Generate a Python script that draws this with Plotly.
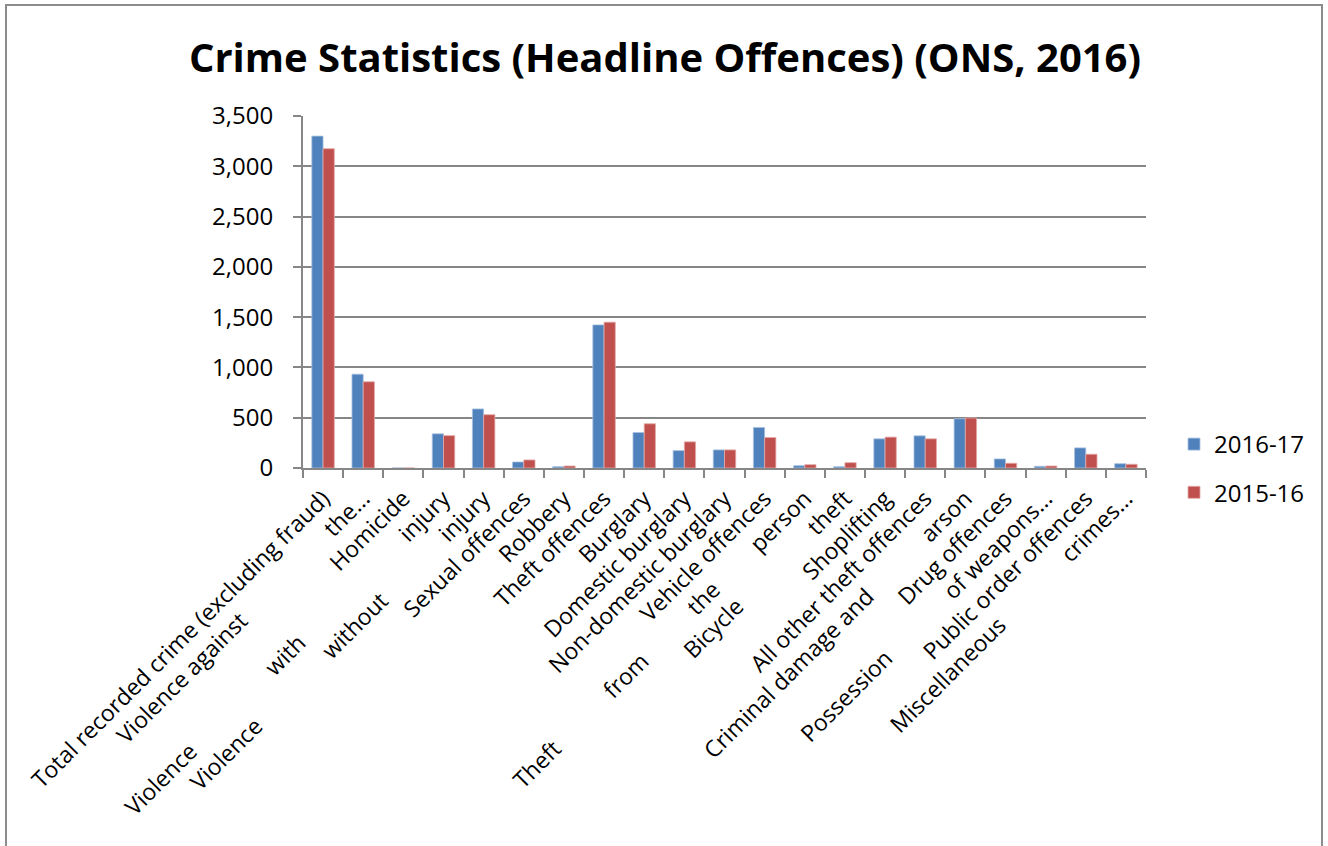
import plotly.graph_objects as go

NB = "\u00a0"

categories = [
    "Total recorded crime (excluding fraud)",
    "Violence against" + NB * 20 + "the...",
    "Homicide",
    "Violence" + NB * 18 + "with" + NB * 24 + "injury",
    "Violence" + NB * 16 + "without" + NB * 14 + "injury",
    "Sexual offences",
    "Robbery",
    "Theft offences",
    "Burglary",
    "Domestic burglary",
    "Non-domestic burglary",
    "Vehicle offences",
    "Theft" + NB * 12 + "from" + NB * 11 + "the" + NB * 9 + "person",
    "Bicycle" + NB * 17 + "theft",
    "Shoplifting",
    "All other theft offences",
    "Criminal damage and" + NB * 13 + "arson",
    "Drug offences",
    "Possession" + NB * 14 + "of weapons...",
    "Public order offences",
    "Miscellaneous" + NB * 15 + "crimes...",
]

values_2016_17 = [3300, 933, 0.5, 340, 587, 60, 13, 1423, 353, 173, 180,
                  403, 23, 13, 290, 320, 490, 90, 17, 200, 43]
values_2015_16 = [3175, 857, 0.5, 322, 530, 80, 20, 1450, 440, 260, 180,
                  303, 33, 53, 307, 290, 497, 47, 20, 137, 37]

series_names = ["2016-17", "2015-16"]

BLUE = "#4F81BD"
RED = "#C0504D"
GRID = "#868686"
FONT = "Open Sans"

fig = go.Figure()
fig.add_trace(go.Bar(x=categories, y=values_2016_17, name=series_names[0],
                     legendgroup="a",
                     marker=dict(color=BLUE, line=dict(color="#A9C1DF", width=0.8))))
fig.add_trace(go.Bar(x=categories, y=values_2015_16, name=series_names[1],
                     legendgroup="b",
                     marker=dict(color=RED, line=dict(color="#E2AAA8", width=0.8))))

# the page's body margin is removed below, so work directly in screen pixels
W, H = 1328, 846
L = 303
T = 116
B = H - 468
R = W - 1146
pw, ph = W - L - R, H - T - B


def px(x):
    return (x - L) / pw


def py(y):
    return (H - B - y) / ph


fig.update_layout(
    width=W, height=H,
    margin=dict(l=L, r=R, t=T, b=B, pad=0),
    paper_bgcolor="white", plot_bgcolor="white",
    font=dict(family=FONT, color="black", size=23),
    title=dict(text="<b>Crime Statistics (Headline Offences) (ONS, 2016)</b>",
               font=dict(family=FONT, size=40, color="black"),
               x=665 / W, xanchor="center", xref="container",
               y=1 - 58 / H, yanchor="middle", yref="container"),
    barmode="group", bargap=0.44, bargroupgap=0,
    showlegend=True,
    legend=dict(x=px(1174), xanchor="left", y=py(422), yanchor="top",
                font=dict(family=FONT, size=24, color="black"),
                traceorder="grouped", tracegroupgap=14,
                bgcolor="rgba(0,0,0,0)", itemwidth=30),
    shapes=[dict(type="rect", xref="paper", yref="paper",
                 x0=px(6), x1=px(1322), y0=py(880), y1=py(5),
                 line=dict(color="#8C8C8C", width=2), layer="below")],
)

fig.update_xaxes(
    type="category", tickangle=-45, tickson="boundaries",
    ticks="outside", ticklen=8, tickcolor=GRID, tickwidth=2,
    showline=True, linecolor=GRID, linewidth=2,
    showgrid=False, automargin=False, ticklabelstandoff=6,
    tickfont=dict(family=FONT, size=23, color="black"),
)
fig.update_yaxes(
    range=[0, 3500], dtick=500, tickformat=",",
    ticks="outside", ticklen=8, tickcolor=GRID, tickwidth=2,
    showline=True, linecolor=GRID, linewidth=2,
    showgrid=True, gridcolor=GRID, gridwidth=2,
    zeroline=False, automargin=False, ticklabelstandoff=15,
    tickfont=dict(family=FONT, size=24, color="black"),
)

fig.write_html(
    "out.html",
    config={"displayModeBar": False},
    post_script="document.body.style.margin='0';document.body.style.overflow='hidden';",
)
